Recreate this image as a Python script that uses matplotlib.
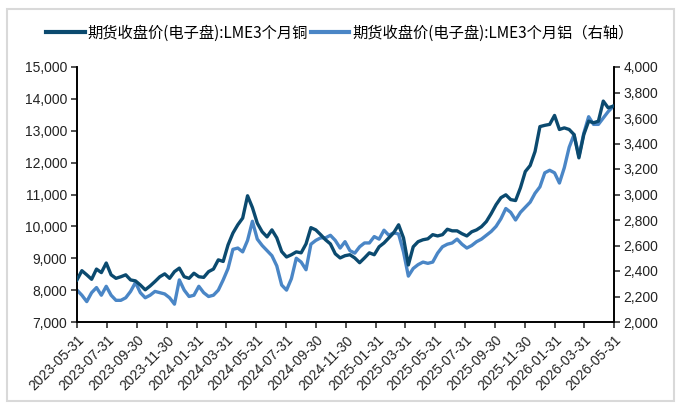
import pandas as pd
import matplotlib
matplotlib.use("Agg")
import matplotlib.pyplot as plt
from matplotlib.patches import Rectangle
from matplotlib.ticker import FuncFormatter

# LME 3-month closing prices, roughly every 10 days
copper = [8320, 8610, 8480, 8340, 8660, 8550, 8850, 8480, 8370, 8420,
          8480, 8320, 8290, 8160, 8010, 8130, 8270, 8420, 8510, 8370,
          8580, 8690, 8420, 8370, 8530, 8420, 8400, 8580, 8660, 8950,
          8900, 9420, 9790, 10050, 10260, 10960, 10590, 10100, 9830, 9670,
          9890, 9640, 9210, 9040, 9110, 9200, 9170, 9450, 9960, 9890,
          9740, 9580, 9450, 9140, 9010, 9080, 9110, 9010, 8860, 9010,
          9170, 9110, 9360, 9480, 9640, 9800, 10050, 9640, 8790, 9360,
          9520, 9580, 9610, 9740, 9700, 9740, 9910, 9860, 9860, 9770,
          9700, 9830, 9890, 9990, 10150, 10400, 10680, 10900, 10990, 10840,
          10810, 11210, 11720, 11910, 12350, 13130, 13170, 13200, 13480, 13040,
          13090, 13040, 12880, 12150, 12880, 13300, 13250, 13300, 13930, 13720,
          13770]

aluminium = [2250, 2210, 2160, 2230, 2270, 2210, 2280, 2210, 2170, 2170,
             2190, 2240, 2310, 2230, 2190, 2210, 2240, 2230, 2220, 2190,
             2140, 2330, 2250, 2200, 2210, 2280, 2230, 2200, 2210, 2250,
             2330, 2420, 2570, 2580, 2550, 2640, 2790, 2650, 2600, 2560,
             2520, 2440, 2290, 2250, 2340, 2500, 2470, 2410, 2610, 2640,
             2660, 2660, 2680, 2640, 2580, 2630, 2560, 2540, 2590, 2620,
             2620, 2670, 2650, 2720, 2680, 2700, 2690, 2550, 2360, 2420,
             2450, 2470, 2460, 2470, 2540, 2590, 2610, 2620, 2650, 2610,
             2580, 2600, 2630, 2650, 2680, 2710, 2750, 2810, 2890, 2860,
             2800, 2860, 2900, 2940, 3010, 3060, 3170, 3190, 3170, 3090,
             3210, 3370, 3470, 3300, 3480, 3610, 3550, 3550, 3600, 3650,
             3690]

dates = pd.date_range("2023-05-31", "2026-05-29", periods=len(copper))

tick_labels = ["2023-05-31", "2023-07-31", "2023-09-30", "2023-11-30",
               "2024-01-31", "2024-03-31", "2024-05-31", "2024-07-31",
               "2024-09-30", "2024-11-30", "2025-01-31", "2025-03-31",
               "2025-05-31", "2025-07-31", "2025-09-30", "2025-11-30",
               "2026-01-31", "2026-03-31", "2026-05-31"]

cu_label = "期货收盘价(电子盘):LME3个月铜"
al_label = "期货收盘价(电子盘):LME3个月铝（右轴）"

dark = "#0b4a6f"
light = "#4a86c6"

plt.rcParams["font.family"] = ["Liberation Sans", "DejaVu Sans"]

fig = plt.figure(figsize=(6.8, 4.05), dpi=100)
ax = fig.add_axes([77 / 680, 83 / 405, 537 / 680, 255 / 405])
ax2 = ax.twinx()

l1, = ax.plot(dates, copper, color=dark, lw=2.4, zorder=3)
l2, = ax2.plot(dates, aluminium, color=light, lw=2.4)
ax.set_zorder(ax2.get_zorder() + 1)
ax.patch.set_visible(False)

ax.set_ylim(7000, 15000)
ax.set_yticks(range(7000, 15001, 1000))
ax2.set_ylim(2000, 4000)
ax2.set_yticks(range(2000, 4001, 200))
fmt = FuncFormatter(lambda v, p: f"{int(v):,}")
ax.yaxis.set_major_formatter(fmt)
ax2.yaxis.set_major_formatter(fmt)

ticks = pd.to_datetime(tick_labels)
ax.set_xlim(ticks[0], ticks[-1])
ax.set_xticks(ticks)
ax.set_xticklabels(tick_labels, rotation=45, ha="right", rotation_mode="anchor")

for a in (ax, ax2):
    a.spines["top"].set_visible(False)
    for s in a.spines.values():
        s.set_linewidth(1.2)
    a.tick_params(labelsize=10, colors="#222222", length=4, width=1.1,
                  direction="out", pad=3)
    a.tick_params(axis="x", pad=4)

leg = fig.legend([l1, l2], [cu_label, al_label], loc="center",
                 bbox_to_anchor=(0.5, 1 - 33 / 405), ncol=2, frameon=False,
                 handlelength=2.5, handletextpad=0.2, columnspacing=0.2,
                 prop={"family": ["Noto Sans CJK SC", "DejaVu Sans"], "size": 11})
for h in leg.get_lines():
    h.set_linewidth(3)

fig.patches.append(Rectangle((7 / 680, 4 / 405), 667 / 680, 392 / 405,
                             transform=fig.transFigure, fill=False,
                             edgecolor="#d9d9d9", lw=1.5))

fig.savefig("out.png", dpi=100)
